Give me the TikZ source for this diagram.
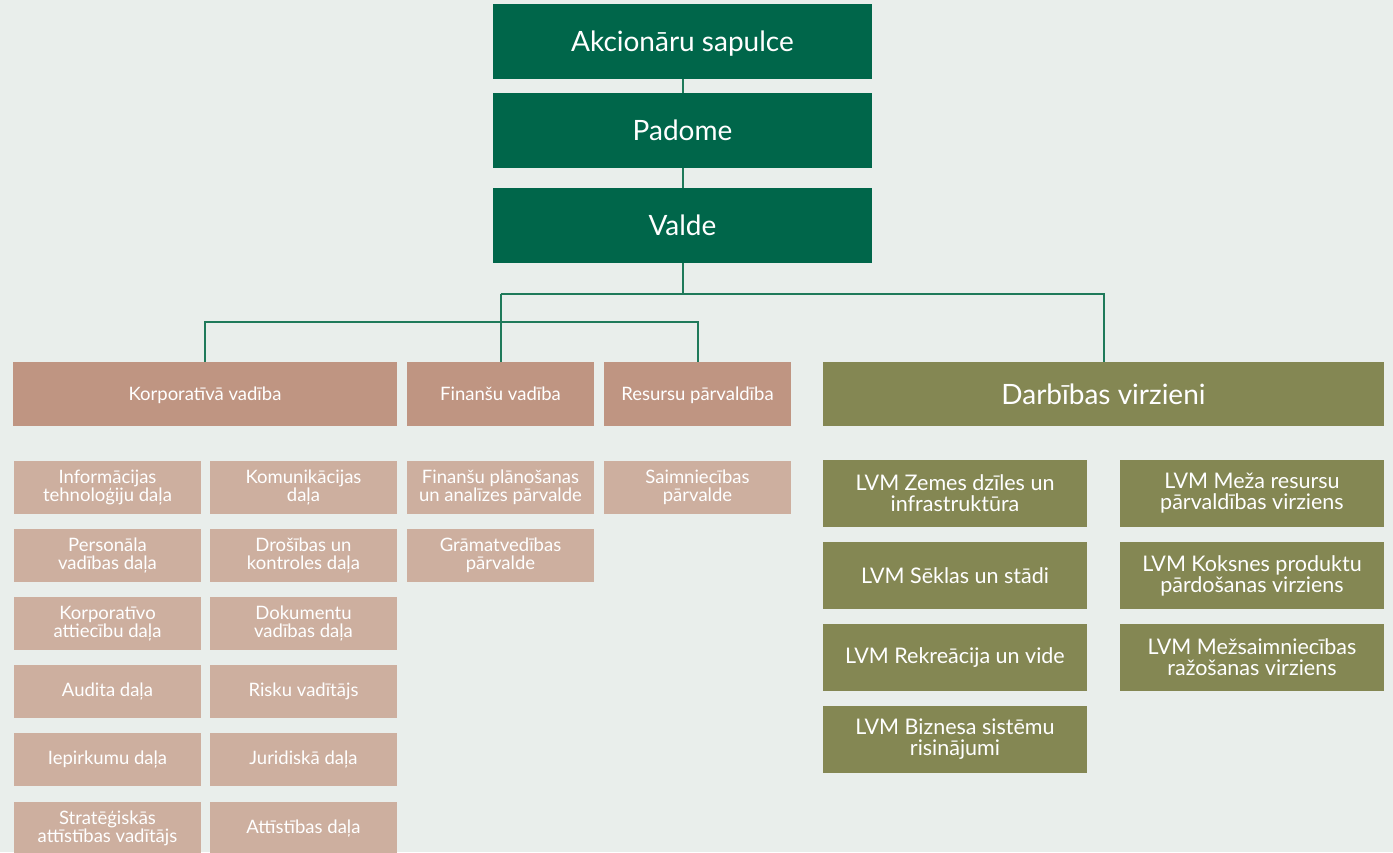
\documentclass[tikz,border=0pt]{standalone}
\usepackage{fontspec}
\setmainfont{Lato}
\usetikzlibrary{positioning}
\definecolor{bg}{HTML}{E9EEEB}
\definecolor{topgreen}{HTML}{00664A}
\definecolor{deptbrown}{HTML}{BF9582}
\definecolor{unitbrown}{HTML}{CDAF9F}
\definecolor{dirgreen}{HTML}{848753}
\definecolor{linegreen}{HTML}{1F7A5A}
\tikzstyle{top}=[rectangle, fill=topgreen, text=white, inner sep=0pt, minimum width=379pt, minimum height=75pt, text height=20pt, text depth=0pt, font=\fontsize{28}{32}\selectfont]
\tikzstyle{dept}=[rectangle, fill=deptbrown, text=white, inner sep=0pt, minimum height=64pt, text height=13.5pt, text depth=0pt, font=\fontsize{18.5}{22}\selectfont]
\tikzstyle{unit}=[rectangle, fill=unitbrown, text=white, inner sep=0pt, minimum width=187pt, minimum height=53pt, align=center, font=\fontsize{18.5}{18}\selectfont]
\tikzstyle{dir}=[rectangle, fill=dirgreen, text=white, inner sep=0pt, minimum width=264pt, minimum height=67pt, align=center, font=\fontsize{21.5}{21}\selectfont]
\tikzstyle{ln}=[draw=linegreen, line width=2pt]

\begin{document}
\begin{tikzpicture}[x=1pt, y=-1pt]
	\fill[bg] (0,0) rectangle (1393,852);
	\useasboundingbox (0,0) rectangle (1393,852);
	%top
	\node[top] (AkS) at (682.5,41.5) {Akcionāru sapulce};
	\node[top] (Pad) at (682.5,130.5) {Padome};
	\node[top] (Val) at (682.5,225.5) {Valde};
	%departments
	\node[dept, minimum width=384pt] (Korp) at (205,394) {Korporatīvā vadība};
	\node[dept, minimum width=187pt] (Fin) at (500.5,394) {Finanšu vadība};
	\node[dept, minimum width=187pt] (Res) at (697.5,394) {Resursu pārvaldība};
	\node[dept, minimum width=561pt, fill=dirgreen, text height=20pt, font=\fontsize{28}{32}\selectfont] (Darb) at (1103.5,394) {Darbības virzieni};
	\coordinate (ra) at (500.5,294);
	\coordinate (rb) at (500.5,322);
	%units
	\node[unit] (It) at (107.5,487.5) {Informācijas\\tehnoloģiju daļa};
	\node[unit] (Kom) at (303.5,487.5) {Komunikācijas\\daļa};
	\node[unit] (Pers) at (107.5,555.5) {Personāla\\vadības daļa};
	\node[unit] (Dros) at (303.5,555.5) {Drošības un\\kontroles daļa};
	\node[unit] (KAtt) at (107.5,623.5) {Korporatīvo\\attiecību daļa};
	\node[unit] (Dok) at (303.5,623.5) {Dokumentu\\vadības daļa};
	\node[unit] (Aud) at (107.5,691.5) {Audita daļa};
	\node[unit] (Risk) at (303.5,691.5) {Risku vadītājs};
	\node[unit] (Iep) at (107.5,759.5) {Iepirkumu daļa};
	\node[unit] (Jur) at (303.5,759.5) {Juridiskā daļa};
	\node[unit] (Str) at (107.5,828.5) {Stratēģiskās\\attīstības vadītājs};
	\node[unit] (Att) at (303.5,828.5) {Attīstības daļa};
	\node[unit] (FPl) at (500.5,487.5) {Finanšu plānošanas\\un analīzes pārvalde};
	\node[unit] (Gram) at (500.5,555.5) {Grāmatvedības\\pārvalde};
	\node[unit] (Saim) at (697.5,487.5) {Saimniecības\\pārvalde};
	%directions
	\node[dir] (Zem) at (955,493.5) {LVM Zemes dzīles un\\infrastruktūra};
	\node[dir] (Sek) at (955,575.5) {LVM Sēklas un stādi};
	\node[dir] (Rek) at (955,657.5) {LVM Rekreācija un vide};
	\node[dir] (Biz) at (955,739.5) {LVM Biznesa sistēmu\\risinājumi};
	\node[dir] (Mez) at (1252,493.5) {LVM Meža resursu\\pārvaldības virziens};
	\node[dir] (Kok) at (1252,575.5) {LVM Koksnes produktu\\pārdošanas virziens};
	\node[dir] (Msa) at (1252,657.5) {LVM Mežsaimniecības\\ražošanas virziens};

	\draw[ln] (AkS) -- (Pad);
	\draw[ln] (Pad) -- (Val);
	\draw[ln] (Val.south) -- (Val.south |- ra);
	\draw[ln] (ra) -| (Darb.north);
	\draw[ln] (ra) -- (Fin.north);
	\draw[ln] (rb) -| (Korp.north);
	\draw[ln] (rb) -| (Res.north);
\end{tikzpicture}
\end{document}
